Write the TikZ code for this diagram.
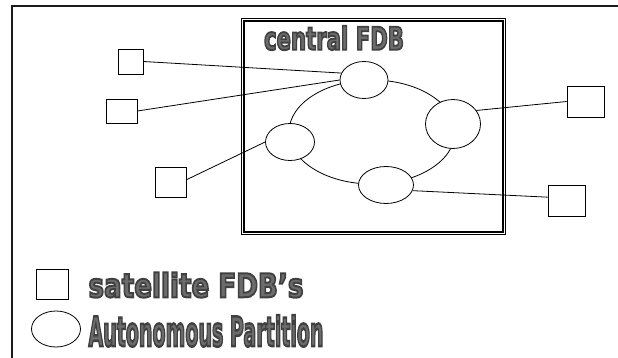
\documentclass[tikz,border=0pt]{standalone}
\usepackage{fontspec}
\setmainfont{Liberation Sans}
\newfontfamily\artfont{DejaVu Sans}
\usepackage{graphicx}
\usetikzlibrary{shapes.geometric}

\definecolor{artfill}{HTML}{6C6C6C}
\definecolor{frameink}{HTML}{1A1A1A}

% heavy lettering stretched into a given box, with a dark outline
\newcommand{\artoutline}[1]{\special{pdf:literal direct 2 Tr 0.6 w 0.25 G}#1\special{pdf:literal direct 0 Tr}}
\newcommand{\artword}[3]{\resizebox{#1}{#2}{\artfont\bfseries\artoutline{#3}}}

\begin{document}
\begin{tikzpicture}[x=1pt,y=-1pt,thick,
    satellite/.style={draw,rectangle,fill=white,inner sep=0pt},
    partition/.style={draw,ellipse,fill=white,inner sep=0pt},
    arttext/.style={text=artfill,inner sep=0pt}]

    \useasboundingbox (0,0) rectangle (618,358);

    % Outer frame, only its top and left edges are in view
    \draw[frameink,line width=2pt] (12,358) -- (12,6) -- (618,6);

    % Central FDB box: thin outer line, heavy inner line
    \draw[line width=0.7pt] (241,18) rectangle (505.5,234.5);
    \draw[line width=2.6pt] (244,21) rectangle (503,232);

    % Title of the central box
    \node[arttext] (title) at (334,38) {\artword{140pt}{24pt}{central FDB}};

    % Ring that links the autonomous partitions
    \draw (372,132) ellipse [x radius=83, y radius=52];

    % Autonomous partitions on the ring
    \node[partition,minimum width=48pt,minimum height=37pt] (ptop) at (364,80) {};
    \node[partition,minimum width=49pt,minimum height=37pt] (pleft) at (290,142) {};
    \node[partition,minimum width=55pt,minimum height=37pt] (pbot) at (386,185) {};
    \node[partition,minimum width=55pt,minimum height=49pt] (pright) at (453,124) {};

    % Satellite FDBs
    \node[satellite,minimum width=25pt,minimum height=25pt] (sat1) at (130.5,61.5) {};
    \node[satellite,minimum width=31pt,minimum height=24pt] (sat2) at (121.5,111) {};
    \node[satellite,minimum width=31pt,minimum height=30pt] (sat3) at (170.5,182) {};
    \node[satellite,minimum width=37pt,minimum height=31pt] (sat4) at (585.5,101.5) {};
    \node[satellite,minimum width=37pt,minimum height=31pt] (sat5) at (566.5,200.5) {};

    % Links from the satellites to the partitions
    \draw (sat1.east) -- (ptop.163);
    \draw (sat2.east) -- (ptop.west);
    \draw (sat3.8) -- (pleft.west);
    \draw (pright.30) -- (sat4.west);
    \draw (pbot.-12) -- (sat5.170);

    % Legend
    \node[satellite,minimum width=32pt,minimum height=30pt] (keysat) at (52,284) {};
    \node[partition,minimum width=49pt,minimum height=36pt] (keypart) at (56,329) {};

    \node[arttext] (keysattext) at (196,285) {\artword{215pt}{25pt}{satellite FDB’s}};
    \node[arttext] (keyparttext) at (206,331) {\artword{235pt}{31pt}{Autonomous Partition}};

\end{tikzpicture}
\end{document}
